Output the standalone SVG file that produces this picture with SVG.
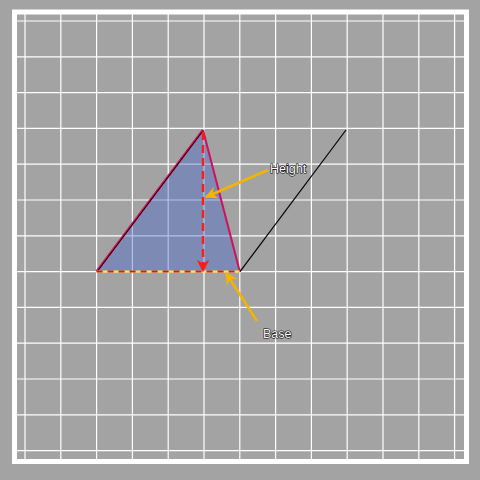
<svg xmlns="http://www.w3.org/2000/svg" width="480" height="480" viewBox="0 0 480 480">
<defs>
<marker id="orangeHead" viewBox="0 0 10 10" refX="9" refY="5" markerWidth="5" markerHeight="5" orient="auto" markerUnits="strokeWidth">
<path d="M0,0 L10,5 L0,10 L3,5 z" fill="#f5b400"/>
</marker>
<marker id="redHead" viewBox="0 0 10 10" refX="9" refY="5" markerWidth="5" markerHeight="5" orient="auto" markerUnits="strokeWidth">
<path d="M0,0 L10,5 L0,10 L3,5 z" fill="#ff1a1a"/>
</marker>
</defs>
<style>
.grid line{stroke:#ffffff;stroke-width:1.2}
.lbl{font-family:"Liberation Sans",Arial,sans-serif;font-size:12.5px;fill:#ffffff;stroke:#000000;stroke-width:1.1;paint-order:stroke}
.orange{stroke:#f5b400;stroke-width:2.5;fill:none}
</style>
<rect x="0" y="0" width="480" height="480" fill="#a3a3a3"/>
<g id="grid" class="grid">
<line x1="25" y1="14" x2="25" y2="459"/>
<line x1="60.8" y1="14" x2="60.8" y2="459"/>
<line x1="96.6" y1="14" x2="96.6" y2="459"/>
<line x1="132.4" y1="14" x2="132.4" y2="459"/>
<line x1="168.2" y1="14" x2="168.2" y2="459"/>
<line x1="204" y1="14" x2="204" y2="459"/>
<line x1="239.8" y1="14" x2="239.8" y2="459"/>
<line x1="275.6" y1="14" x2="275.6" y2="459"/>
<line x1="311.4" y1="14" x2="311.4" y2="459"/>
<line x1="347.2" y1="14" x2="347.2" y2="459"/>
<line x1="383" y1="14" x2="383" y2="459"/>
<line x1="418.8" y1="14" x2="418.8" y2="459"/>
<line x1="454.6" y1="14" x2="454.6" y2="459"/>
<line x1="17" y1="21" x2="464" y2="21"/>
<line x1="17" y1="56.8" x2="464" y2="56.8"/>
<line x1="17" y1="92.6" x2="464" y2="92.6"/>
<line x1="17" y1="128.4" x2="464" y2="128.4"/>
<line x1="17" y1="164.2" x2="464" y2="164.2"/>
<line x1="17" y1="200" x2="464" y2="200"/>
<line x1="17" y1="235.8" x2="464" y2="235.8"/>
<line x1="17" y1="271.6" x2="464" y2="271.6"/>
<line x1="17" y1="307.4" x2="464" y2="307.4"/>
<line x1="17" y1="343.2" x2="464" y2="343.2"/>
<line x1="17" y1="379" x2="464" y2="379"/>
<line x1="17" y1="414.8" x2="464" y2="414.8"/>
<line x1="17" y1="450.6" x2="464" y2="450.6"/>
</g>
<rect id="frame" x="14.5" y="12" width="452" height="449.5" fill="none" stroke="#ffffff" stroke-width="5"/>
<g id="triangle">
<polygon points="96.6,271.6 203,130 239.8,271.6" fill="#4466cc" fill-opacity="0.4"/>
<line x1="96.6" y1="271.6" x2="203" y2="130" stroke="#d0105a" stroke-width="2.5"/>
<line x1="97.5" y1="271" x2="203.5" y2="130" stroke="#000000" stroke-width="1"/>
<line x1="203" y1="130" x2="239.8" y2="271.6" stroke="#d0105a" stroke-width="2"/>
<line x1="96.6" y1="271.6" x2="239.8" y2="271.6" stroke="#ffee33" stroke-width="2"/>
<line x1="96.6" y1="271.6" x2="239.8" y2="271.6" stroke="#d0105a" stroke-width="2" stroke-dasharray="6,5"/>
</g>
<g id="parallel">
<line x1="240" y1="271.6" x2="346" y2="130" stroke="#000000" stroke-width="1.2"/>
</g>
<g id="connectors">
<line x1="203" y1="132" x2="203" y2="271" stroke="#ff1a1a" stroke-width="2.5" stroke-dasharray="8,5" marker-end="url(#redHead)"/>
<line x1="268" y1="170" x2="206" y2="197" class="orange" marker-end="url(#orangeHead)"/>
<line x1="257" y1="321" x2="226" y2="273" class="orange" marker-end="url(#orangeHead)"/>
</g>
<g id="label-height"><text class="lbl" x="270" y="173">Height</text></g>
<g id="label-base"><text class="lbl" x="263" y="338">Base</text></g>
</svg>
